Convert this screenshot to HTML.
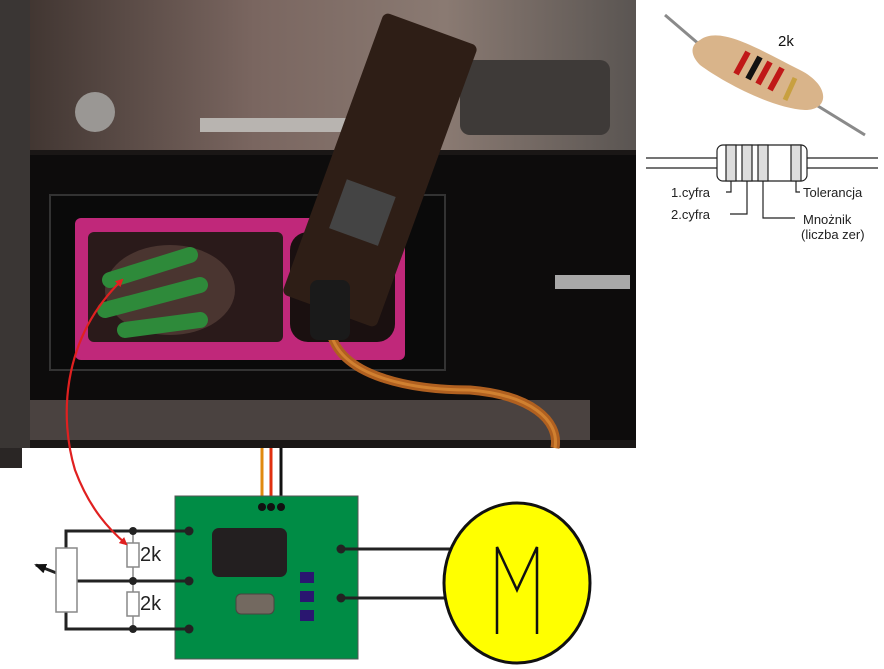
<!DOCTYPE html>
<html><head><meta charset="utf-8"><style>
html,body{margin:0;padding:0;background:#fff;}
svg{display:block;}
text{font-family:"Liberation Sans",sans-serif;}
</style></head><body>
<svg width="884" height="669" viewBox="0 0 884 669" xmlns="http://www.w3.org/2000/svg">
<defs>
<marker id="ah" markerWidth="8" markerHeight="8" refX="6" refY="4" orient="auto" markerUnits="userSpaceOnUse"><path d="M0,0 L8,4 L0,8 z" fill="#e02020"/></marker>
<marker id="bh" markerWidth="12" markerHeight="10" refX="10" refY="5" orient="auto" markerUnits="userSpaceOnUse"><path d="M0,0 L12,5 L0,10 z" fill="#111"/></marker>
<linearGradient id="top" x1="0" y1="0" x2="1" y2="0"><stop offset="0" stop-color="#3a302c"/><stop offset="0.4" stop-color="#7a6660"/><stop offset="0.7" stop-color="#8a7a72"/><stop offset="1" stop-color="#5a5552"/></linearGradient>
</defs>
<!-- photo -->
<rect x="0" y="0" width="636" height="448" fill="#1a1716"/>
<rect x="0" y="448" width="22" height="20" fill="#2a2625"/>
<rect x="0" y="0" width="636" height="150" fill="url(#top)"/>
<rect x="0" y="0" width="30" height="448" fill="#3a3634"/>
<rect x="200" y="118" width="210" height="14" fill="#b8b4b0"/>
<circle cx="95" cy="112" r="20" fill="#9a9794"/>
<rect x="460" y="60" width="150" height="75" rx="10" fill="#3e3a38"/>
<rect x="30" y="155" width="606" height="285" fill="#0d0c0c"/>
<rect x="30" y="400" width="560" height="40" fill="#4a4240"/>
<rect x="50" y="195" width="395" height="175" fill="#0a0a0a" stroke="#333" stroke-width="2"/>
<rect x="75" y="218" width="330" height="142" rx="6" fill="#c0287a"/>
<rect x="88" y="232" width="195" height="110" rx="6" fill="#2a1a1a"/>
<rect x="290" y="232" width="105" height="110" rx="18" fill="#1a1010"/>
<ellipse cx="170" cy="290" rx="65" ry="45" fill="#4a3530"/>
<path d="M110,280 L190,255 M105,310 L200,285 M125,330 L200,320" stroke="#2e8a3a" stroke-width="16" stroke-linecap="round"/>
<rect x="555" y="275" width="75" height="14" fill="#a8a8a8"/>
<g transform="rotate(20 380 170)"><rect x="330" y="20" width="100" height="300" rx="6" fill="#2e1e16"/>
<rect x="352" y="190" width="52" height="52" fill="#444"/></g>
<path d="M330,330 C340,380 420,390 470,390 C530,395 560,420 555,448" stroke="#b06020" stroke-width="9" fill="none"/>
<path d="M330,330 C340,380 420,390 470,390 C530,395 560,420 555,448" stroke="#d08030" stroke-width="3" fill="none"/>
<rect x="310" y="280" width="40" height="60" rx="8" fill="#1a1a1a"/>
<!-- top right resistor photo -->
<rect x="636" y="0" width="248" height="140" fill="#fff"/>
<path d="M665,15 L700,45 M800,95 L865,135" stroke="#8a8a8a" stroke-width="3"/>
<path d="M700,40 C720,25 760,50 800,70 C830,85 830,110 805,110 C770,108 720,80 700,65 C690,55 690,45 700,40z" fill="#d9b48a"/>
<path d="M748,52 l-12,22 M770,62 l-12,22 M782,68 l-12,22" stroke="#c01818" stroke-width="6"/>
<path d="M760,57 l-12,22" stroke="#111" stroke-width="6"/>
<path d="M795,78 l-10,22" stroke="#c8a040" stroke-width="5"/>
<text x="778" y="46" font-size="15" fill="#111">2k</text>
<!-- resistor band diagram -->
<g stroke="#222" fill="none" stroke-width="1.2">
<path d="M646,158 L718,158 M646,168 L718,168 M806,158 L878,158 M806,168 L878,168"/>
<rect x="717" y="145" width="90" height="36" rx="6" fill="#fff"/>
<rect x="726" y="145" width="10" height="36" fill="#ddd"/>
<rect x="742" y="145" width="10" height="36" fill="#ddd"/>
<rect x="758" y="145" width="10" height="36" fill="#ddd"/>
<rect x="791" y="145" width="10" height="36" fill="#ddd"/>
<path d="M731,181 V192 H726 M747,181 V214 H730 M763,181 V218 H795 M796,181 V192 H800"/>
</g>
<g font-size="13" fill="#222">
<text x="671" y="197">1.cyfra</text>
<text x="671" y="219">2.cyfra</text>
<text x="803" y="197">Tolerancja</text>
<text x="803" y="224">Mnożnik</text>
<text x="801" y="239">(liczba zer)</text>
</g>
<!-- bottom diagram -->
<line x1="262" y1="448" x2="262" y2="507" stroke="#e08a10" stroke-width="3"/>
<line x1="271" y1="448" x2="271" y2="507" stroke="#e03010" stroke-width="3"/>
<line x1="281" y1="448" x2="281" y2="507" stroke="#111" stroke-width="3"/>
<rect x="175" y="496" width="183" height="163" fill="#008c45" stroke="#555" stroke-width="1"/>
<g fill="#111"><circle cx="262" cy="507" r="4"/><circle cx="271" cy="507" r="4"/><circle cx="281" cy="507" r="4"/></g>
<rect x="212" y="528" width="75" height="49" rx="7" fill="#231f20"/>
<rect x="236" y="594" width="38" height="20" rx="5" fill="#736960" stroke="#4a4440"/>
<g fill="#2a1670"><rect x="300" y="572" width="14" height="11"/><rect x="300" y="591" width="14" height="11"/><rect x="300" y="610" width="14" height="11"/></g>
<g stroke="#222" stroke-width="3" fill="none">
<path d="M66,549 V531 H189 M66,612 V629 H189 M77,581 H189"/>
<path d="M341,549 H450 M341,598 H450"/>
</g>
<line x1="77" y1="581" x2="36" y2="565" stroke="#222" stroke-width="3" marker-end="url(#bh)"/>
<line x1="133" y1="531" x2="133" y2="629" stroke="#888" stroke-width="1.5"/>
<rect x="56" y="548" width="21" height="64" fill="#fff" stroke="#888" stroke-width="1.5"/>
<rect x="127" y="543" width="12" height="24" fill="#fff" stroke="#888" stroke-width="1.5"/>
<rect x="127" y="592" width="12" height="24" fill="#fff" stroke="#888" stroke-width="1.5"/>
<g fill="#222"><circle cx="133" cy="531" r="4"/><circle cx="133" cy="581" r="4"/><circle cx="133" cy="629" r="4"/>
<circle cx="189" cy="531" r="4.5"/><circle cx="189" cy="581" r="4.5"/><circle cx="189" cy="629" r="4.5"/>
<circle cx="341" cy="549" r="4.5"/><circle cx="341" cy="598" r="4.5"/></g>
<text x="140" y="561" font-size="20" fill="#222">2k</text>
<text x="140" y="610" font-size="20" fill="#222">2k</text>
<ellipse cx="517" cy="583" rx="73" ry="80" fill="#ffff00" stroke="#111" stroke-width="3"/>
<path d="M497,634 V547 L517,590 L537,547 V634" stroke="#111" stroke-width="2.5" fill="none"/>
<!-- red arrow -->
<path d="M122,280 C60,340 60,420 75,470 C90,510 110,530 126,544" stroke="#e02020" stroke-width="2.2" fill="none" marker-end="url(#ah)"/>
<path d="M75,470 C60,420 60,340 122,280" stroke="none" fill="none" marker-end="url(#ah)"/>
</svg>
</body></html>
